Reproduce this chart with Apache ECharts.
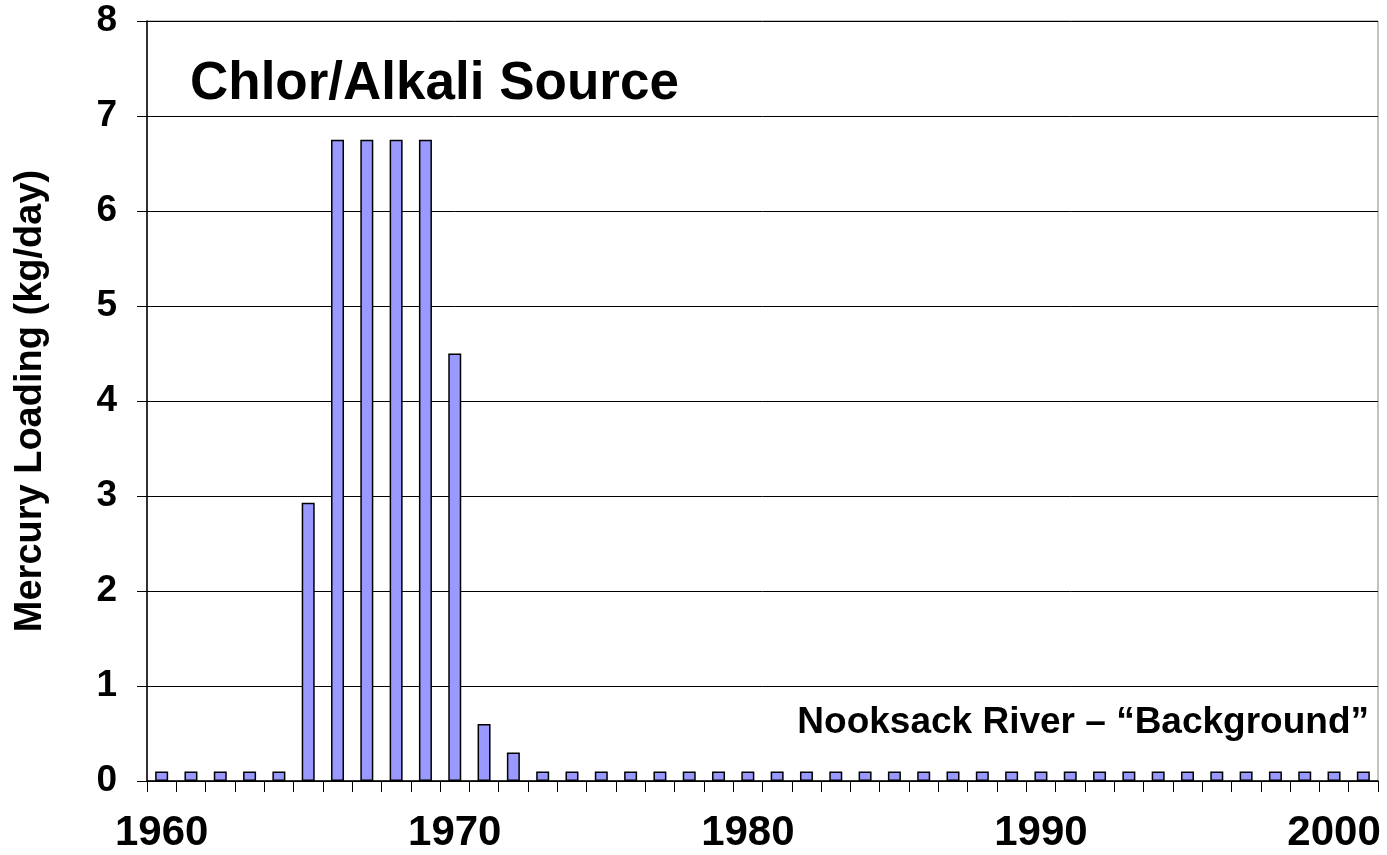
<!DOCTYPE html>
<html><head><meta charset="utf-8">
<script src="https://cdn.jsdelivr.net/npm/echarts@6/dist/echarts.min.js"></script>
<style>html,body{margin:0;padding:0;background:#fff}#c{width:1387px;height:855px}</style>
</head><body><div id="c"></div>
<script>
const years = [];
for (let y = 1960; y <= 2001; y++) years.push(String(y));
const loading = [0.1,0.1,0.1,0.1,0.1,2.93,6.75,6.75,6.75,6.75,4.5,0.6,0.3,
  0.1,0.1,0.1,0.1,0.1,0.1,0.1,0.1,0.1,0.1,0.1,0.1,0.1,0.1,0.1,0.1,0.1,
  0.1,0.1,0.1,0.1,0.1,0.1,0.1,0.1,0.1,0.1,0.1,0.1];
const shownYears = ['1960','1970','1980','1990','2000'];
const titleText = 'Chlor/Alkali Source';
const noteText = 'Nooksack River \u2013 \u201cBackground\u201d';
const yName = 'Mercury Loading (kg/day)';

const font = '"Liberation Sans", Arial, sans-serif';
const chart = echarts.init(document.getElementById('c'));
chart.setOption({
  animation: false,
  backgroundColor: '#fff',
  grid: {left: 147, right: 9, top: 21, bottom: 74, show: true, borderColor: '#888', borderWidth: 1},
  graphic: [
    {type: 'text', left: 190, top: 58, style: {text: titleText, font: 'bold 53px ' + font, fill: '#000'}},
    {type: 'text', right: 18, top: 704, style: {text: noteText, font: 'bold 37px ' + font, fill: '#000'}}
  ],
  xAxis: {
    type: 'category', data: years, boundaryGap: true,
    axisLine: {lineStyle: {color: '#000', width: 1.5}},
    axisTick: {show: true, interval: 0, length: 11, lineStyle: {color: '#000', width: 1}},
    axisLabel: {interval: 0, formatter: v => shownYears.includes(v) ? v : '', margin: 31,
      fontFamily: font, fontWeight: 'bold', fontSize: 42, color: '#000'},
    splitLine: {show: false}
  },
  yAxis: {
    type: 'value', min: 0, max: 8, interval: 1,
    name: yName, nameLocation: 'middle', nameGap: 97, nameRotate: 90,
    nameTextStyle: {fontFamily: font, fontWeight: 'bold', fontSize: 38, color: '#000'},
    axisLine: {show: true, lineStyle: {color: '#000', width: 1.5}},
    axisTick: {show: true, length: 10, lineStyle: {color: '#000'}},
    axisLabel: {margin: 30, fontFamily: font, fontWeight: 'bold', fontSize: 37, color: '#000'},
    splitLine: {show: true, lineStyle: {color: '#000', width: 1}}
  },
  series: [{
    type: 'bar', data: loading, barWidth: 13,
    itemStyle: {color: '#9999ff', borderColor: '#000', borderWidth: 1.5}
  }]
});
</script></body></html>
